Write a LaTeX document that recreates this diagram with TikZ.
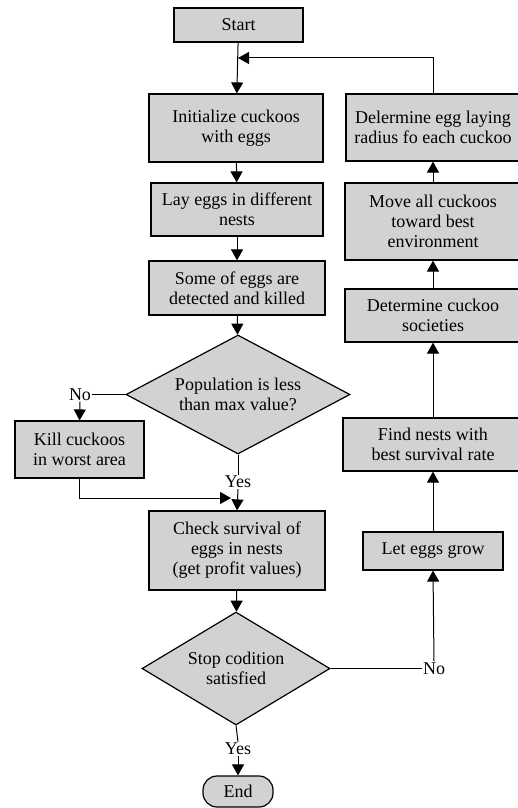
\documentclass[tikz,border=0pt]{standalone}
\usepackage{fontspec}
\setmainfont{Liberation Serif}
\usetikzlibrary{shapes.geometric,arrows.meta}

\begin{document}
\begin{tikzpicture}[x=1pt,y=-1pt,
    every node/.style={font=\fontsize{18}{20}\selectfont},
    proc/.style={draw, line width=1.2pt, fill=gray!35, align=center, inner sep=0pt},
    decision/.style={draw, diamond, line width=1.2pt, fill=gray!35, align=center, inner sep=0pt},
    flow/.style={-{Triangle[width=12pt,length=11pt]}, line width=1pt},
    link/.style={line width=1pt}]
            \useasboundingbox (0,0) rectangle (518,808);
            \clip (0,0) rectangle (518,808);

            % main column
            \node[proc, minimum width=129pt, minimum height=34pt] (start) at (238.5,25) {Start};
            \node[proc, minimum width=174pt, minimum height=68pt] (init) at (236,128) {Initialize cuckoos\\with eggs};
            \node[proc, minimum width=172pt, minimum height=53pt] (lay) at (237,209.5) {Lay eggs in different\\nests};
            \node[proc, minimum width=176pt, minimum height=54pt] (killed) at (237,288) {Some of eggs are\\detected and killed};
            \node[decision, minimum width=224pt, minimum height=119pt, aspect=1.88] (popcheck) at (238,394.5) {Population is less\\than max value?};
            \node[proc, minimum width=129pt, minimum height=57pt] (worst) at (79.5,449.5) {Kill cuckoos\\in worst area};
            \node[proc, minimum width=176pt, minimum height=79pt] (survival) at (237,550.5) {Check survival of\\eggs in nests\\(get profit values)};
            \node[decision, minimum width=188pt, minimum height=113pt, aspect=1.66] (stopcheck) at (236,668.5) {Stop codition\\satisfied};
            \node[proc, rounded corners=14pt, minimum width=70pt, minimum height=31pt] (finish) at (238,791.5) {End};

            % loop column
            \node[proc, minimum width=140pt, minimum height=38pt] (grow) at (433,551) {Let eggs grow};
            \node[proc, minimum width=180pt, minimum height=53pt] (nests) at (433,444.5) {Find nests with\\best survival rate};
            \node[proc, minimum width=176pt, minimum height=53pt] (society) at (433,315.5) {Determine cuckoo\\societies};
            \node[proc, minimum width=176pt, minimum height=77pt] (move) at (433,221.5) {Move all cuckoos\\toward best\\environment};
            \node[proc, minimum width=174pt, minimum height=67pt] (radius) at (433,127.5) {Delermine egg laying\\radius fo each cuckoo};

            % branch labels
            \node[inner sep=1pt] (popno) at (80,394.5) {No};
            \node[inner sep=1pt] (popyes) at (238,482) {Yes};
            \node[inner sep=1pt] (stopyes) at (238,749) {Yes};
            \node[inner sep=1pt] (stopno) at (434,668.5) {No};
            \coordinate (loopin) at (238,58);
            \coordinate (merge) at (231,498);

            \draw[flow] (start) -- (init);
            \draw[flow] (init) -- (lay);
            \draw[flow] (lay) -- (killed);
            \draw[flow] (killed) -- (popcheck);

            \draw[link] (popcheck.west) -- (popno.east);
            \draw[flow] (popno.south) -- (worst.north);
            \draw[flow] (worst.south) |- (merge);
            \draw[link] (popcheck.south) -- (popyes.north);
            \draw[flow] (popyes.south) -- (survival.north);

            \draw[flow] (survival) -- (stopcheck);
            \draw[link] (stopcheck.south) -- (stopyes.north);
            \draw[flow] (stopyes.south) -- (finish.north);
            \draw[link] (stopcheck.east) -- (stopno.west);
            \draw[flow] (stopno.north) -- (grow.south);

            \draw[flow] (grow) -- (nests);
            \draw[flow] (nests) -- (society);
            \draw[flow] (society) -- (move);
            \draw[flow] (move) -- (radius);
            \draw[flow] (radius.north) |- (loopin);
        \end{tikzpicture}
\end{document}
